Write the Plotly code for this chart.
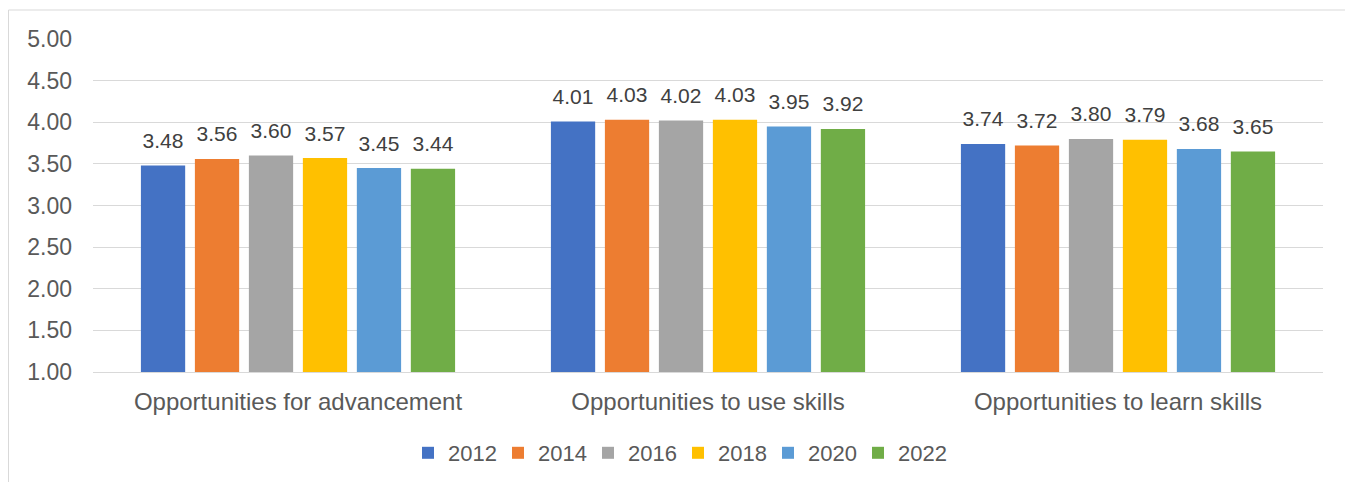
import plotly.graph_objects as go

categories = ["Opportunities for advancement", "Opportunities to use skills", "Opportunities to learn skills"]
years = ["2012", "2014", "2016", "2018", "2020", "2022"]
v2012 = [3.48, 4.01, 3.74]
v2014 = [3.56, 4.03, 3.72]
v2016 = [3.60, 4.02, 3.80]
v2018 = [3.57, 4.03, 3.79]
v2020 = [3.45, 3.95, 3.68]
v2022 = [3.44, 3.92, 3.65]
series = [v2012, v2014, v2016, v2018, v2020, v2022]
colors = ["#4472C4", "#ED7D31", "#A5A5A5", "#FFC000", "#5B9BD5", "#70AD47"]
yticks = [1.0, 1.5, 2.0, 2.5, 3.0, 3.5, 4.0, 4.5, 5.0]

FONT = "Liberation Sans, Arial"
fig = go.Figure()
for name, vals, c in zip(years, series, colors):
    fig.add_trace(go.Bar(
        x=categories, y=vals, name=name, marker_color=c, marker_line_width=0,
        offsetgroup=name, hoverinfo="skip",
    ))
for name, vals in zip(years, series):
    fig.add_trace(go.Scatter(
        x=categories, y=vals, mode="markers+text", showlegend=False,
        offsetgroup=name, hoverinfo="skip",
        marker=dict(size=18, opacity=0),
        text=[f"{v:.2f}" for v in vals], textposition="top center",
        textfont=dict(family=FONT, size=21, color="#404040"),
        cliponaxis=False,
    ))

# page body has an 8px margin; the figure is sized to sit inside it
W, H = 1345, 474
L, R, T, B = 85, 30, 31, 110
pw, ph = W - L - R, H - T - B
fig.update_layout(
    width=W, height=H,
    margin=dict(l=L, r=R, t=T, b=B, autoexpand=False),
    barmode="group", bargap=0.21, bargroupgap=0.18,
    scattermode="group", scattergap=0.21,
    plot_bgcolor="white", paper_bgcolor="white",
    font=dict(family=FONT, size=24, color="#595959"),
    showlegend=True,
    legend=dict(orientation="h", x=(670 - L) / pw, xanchor="center", y=(364 - 445) / ph, yanchor="middle",
                font=dict(size=22, color="#595959"), itemclick=False, itemwidth=30,
                entrywidth=45, tracegroupgap=0),
)
fig.update_yaxes(range=[1, 5], tickvals=yticks, ticktext=[f"{t:.2f}" for t in yticks],
                 showgrid=True, gridcolor="#D9D9D9", gridwidth=1, zeroline=False,
                 ticks="", ticklabelstandoff=20, tickfont=dict(size=23, color="#595959"),
                 automargin=False)
fig.update_xaxes(showline=True, linecolor="#D9D9D9", linewidth=1, ticks="",
                 ticklabelstandoff=8, tickfont=dict(size=24, color="#595959"),
                 automargin=False)
fig.add_shape(type="rect", xref="paper", yref="paper",
              x0=(0.5 - L) / pw, x1=(1343 - L) / pw,
              y0=(364 - 520) / ph, y1=(364 - 2) / ph,
              line=dict(color="#D9D9D9", width=1), fillcolor="rgba(0,0,0,0)", layer="below")
fig.write_html("out.html")
